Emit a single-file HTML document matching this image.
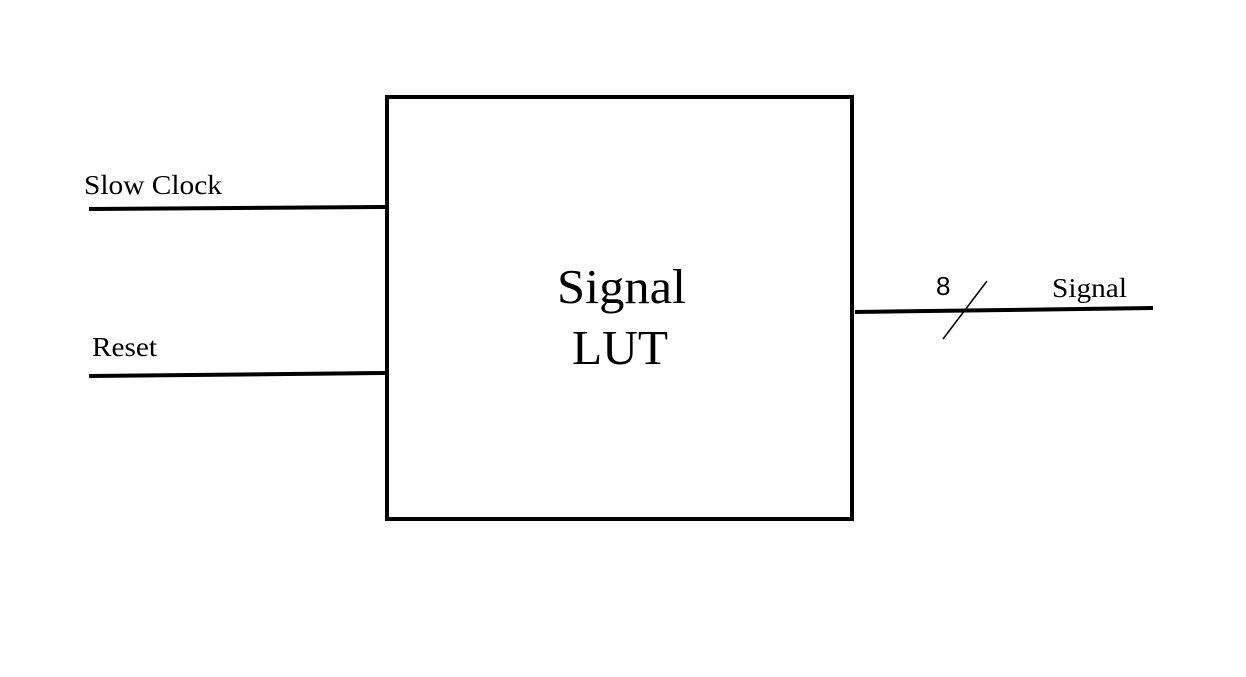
<!DOCTYPE html>
<html><head><meta charset="utf-8"><style>html,body{margin:0;padding:0;background:#fff}</style></head>
<body>
<svg width="1246" height="672" viewBox="0 0 1246 672" xmlns="http://www.w3.org/2000/svg">
<rect x="0" y="0" width="1246" height="672" fill="#fff"/>
<rect x="387" y="97" width="465" height="422" fill="none" stroke="#000" stroke-width="4"/>
<line x1="89" y1="209" x2="386" y2="207" stroke="#000" stroke-width="4"/>
<line x1="89" y1="376" x2="386" y2="373" stroke="#000" stroke-width="4"/>
<line x1="855" y1="312" x2="1153" y2="308" stroke="#000" stroke-width="4"/>
<line x1="943" y1="339" x2="987" y2="281" stroke="#000" stroke-width="1.5"/>
<g font-family="Liberation Serif, serif" fill="#000">
<text x="84" y="194" font-size="27" textLength="138" lengthAdjust="spacingAndGlyphs">Slow Clock</text>
<text x="92" y="356" font-size="27" textLength="65" lengthAdjust="spacingAndGlyphs">Reset</text>
<text x="1052" y="297" font-size="27" textLength="75" lengthAdjust="spacingAndGlyphs">Signal</text>
<text x="557" y="303" font-size="49" textLength="129" lengthAdjust="spacingAndGlyphs">Signal</text>
<text x="572" y="364" font-size="49" textLength="96" lengthAdjust="spacingAndGlyphs">LUT</text>
</g>
<text x="936" y="295" font-size="26" font-family="Liberation Sans, sans-serif">8</text>
</svg>
</body></html>
